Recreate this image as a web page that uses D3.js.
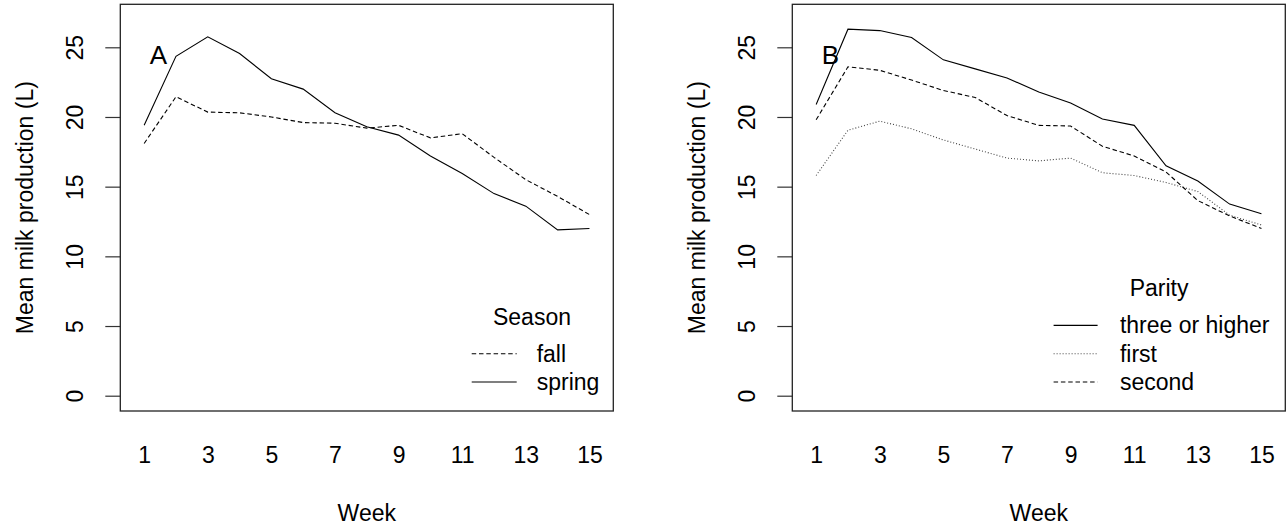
<!DOCTYPE html>
<html>
<head>
<meta charset="utf-8">
<script src="https://cdn.jsdelivr.net/npm/d3@7"></script>
<style>
  body { margin: 0; background: #fff; }
  svg { display: block; }
  text { font-family: "Liberation Sans", Arial, sans-serif; fill: #000; }
</style>
</head>
<body>
<div id="chart"></div>
<script>
// week numbers and tick labels
var weeks = [1, 2, 3, 4, 5, 6, 7, 8, 9, 10, 11, 12, 13, 14, 15];
var xTicks = [1, 3, 5, 7, 9, 11, 13, 15];
var yTicks = [0, 5, 10, 15, 20, 25];

// panel A: season
var seasonNames = ["fall", "spring"];
var fall   = [18.1, 21.45, 20.35, 20.3, 20.0, 19.6, 19.55, 19.2, 19.4, 18.5, 18.8, 17.1, 15.5, 14.3, 13.0];
var spring = [19.4, 24.35, 25.75, 24.55, 22.75, 22.0, 20.3, 19.3, 18.7, 17.2, 15.95, 14.5, 13.6, 11.9, 12.0];

// panel B: parity
var parityNames = ["three or higher", "first", "second"];
var threeOrHigher = [20.9, 26.3, 26.2, 25.7, 24.1, 23.45, 22.8, 21.8, 21.0, 19.85, 19.4, 16.5, 15.4, 13.75, 13.05];
var first         = [15.8, 19.05, 19.7, 19.15, 18.35, 17.7, 17.05, 16.85, 17.05, 16.0, 15.8, 15.3, 14.65, 12.95, 12.25];
var second        = [19.8, 23.6, 23.35, 22.65, 21.9, 21.4, 20.1, 19.4, 19.35, 17.9, 17.2, 16.05, 14.0, 12.9, 12.0];

var W = 1286, H = 527;
var fontSize = 23;
var dashes = { solid: null, dashed: "4.5,2.8", dotted: "1,2" };

var svg = d3.select("#chart").append("svg")
  .attr("width", W)
  .attr("height", H);

var drawPanel = function(left, opts) {
  var right = left + 493, top = 4.3, bottom = 411;

  var x = d3.scaleLinear().domain([0.25, 15.75]).range([left, right]);
  var y = d3.scaleLinear().domain([0, 25]).range([395.7, 47.3]);

  var g = svg.append("g");

  // y axis, ticks only, labels turned like R
  var yAxis = g.append("g")
    .attr("transform", "translate(" + left + ",0)")
    .call(d3.axisLeft(y).tickValues(yTicks).tickSize(15).tickSizeOuter(0));
  yAxis.select(".domain").remove();
  yAxis.selectAll(".tick line").attr("stroke", "#333").attr("stroke-width", 1.2);
  yAxis.selectAll(".tick text")
    .attr("transform", "rotate(-90)")
    .attr("x", 0).attr("y", -37).attr("dy", 0)
    .attr("text-anchor", "middle")
    .style("font-size", fontSize + "px")
    .style("font-family", '"Liberation Sans", Arial, sans-serif');

  // x axis, labels without ticks
  var xAxis = g.append("g")
    .attr("transform", "translate(0," + bottom + ")")
    .call(d3.axisBottom(x).tickValues(xTicks).tickSize(0));
  xAxis.select(".domain").remove();
  xAxis.selectAll(".tick text")
    .attr("y", 52).attr("dy", 0)
    .style("font-size", fontSize + "px")
    .style("font-family", '"Liberation Sans", Arial, sans-serif');

  // box
  g.append("rect")
    .attr("x", left).attr("y", top)
    .attr("width", right - left).attr("height", bottom - top)
    .attr("fill", "none").attr("stroke", "#222").attr("stroke-width", 1.3);

  // series
  var line = d3.line()
    .x(function(d, i) { return x(weeks[i]); })
    .y(function(d) { return y(d); });

  opts.series.forEach(function(s) {
    g.append("path")
      .attr("d", line(s.values))
      .attr("fill", "none")
      .attr("stroke", s.style === "dotted" ? "#444" : "#000")
      .attr("stroke-width", 1.1)
      .attr("stroke-dasharray", dashes[s.style]);
  });

  // panel letter
  g.append("text")
    .attr("x", x(1.45)).attr("y", y(24.5))
    .attr("dy", "0.36em")
    .attr("text-anchor", "middle")
    .style("font-size", "26px")
    .text(opts.letter);

  // axis titles
  g.append("text")
    .attr("transform", "translate(" + (left - 87) + "," + ((top + bottom) / 2) + ") rotate(-90)")
    .attr("text-anchor", "middle")
    .style("font-size", fontSize + "px")
    .text("Mean milk production (L)");

  g.append("text")
    .attr("x", (left + right) / 2).attr("y", 521)
    .attr("text-anchor", "middle")
    .style("font-size", fontSize + "px")
    .text("Week");

  // legend, anchored bottom right
  var lg = opts.legend;
  var n = opts.series.length;
  var rowH = 28.3, lastBase = 390;
  g.append("text")
    .attr("x", right - lg.titleOff)
    .attr("y", lastBase - n * rowH - 8.7)
    .attr("text-anchor", "middle")
    .style("font-size", fontSize + "px")
    .text(lg.title);

  opts.series.forEach(function(s, i) {
    var base = lastBase - (n - 1 - i) * rowH;
    g.append("line")
      .attr("x1", right - lg.lineStart).attr("x2", right - lg.lineEnd)
      .attr("y1", base - 8).attr("y2", base - 8)
      .attr("stroke", s.style === "dotted" ? "#444" : "#000")
      .attr("stroke-width", 1.1)
      .attr("stroke-dasharray", dashes[s.style]);
    g.append("text")
      .attr("x", right - lg.textOff).attr("y", base)
      .style("font-size", fontSize + "px")
      .text(s.name);
  });
};

drawPanel(120.3, {
  letter: "A",
  series: [
    {name: seasonNames[0], values: fall, style: "dashed"},
    {name: seasonNames[1], values: spring, style: "solid"}
  ],
  legend: {title: "Season", titleOff: 81.3, lineStart: 141.6, lineEnd: 96.6, textOff: 76.6}
});

drawPanel(792.3, {
  letter: "B",
  series: [
    {name: parityNames[0], values: threeOrHigher, style: "solid"},
    {name: parityNames[1], values: first, style: "dotted"},
    {name: parityNames[2], values: second, style: "dashed"}
  ],
  legend: {title: "Parity", titleOff: 126.2, lineStart: 231.7, lineEnd: 187.7, textOff: 165.4}
});
</script>
</body>
</html>
